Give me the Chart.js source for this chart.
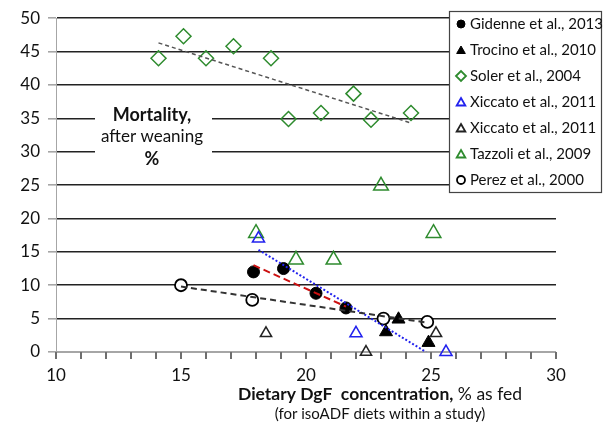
<!DOCTYPE html>
<html>
<head>
<meta charset="utf-8">
<script src="https://cdn.jsdelivr.net/npm/chart.js@4/dist/chart.umd.min.js"></script>
<style>
  body { margin: 0; background: #fff; }
  #wrap { width: 608px; height: 426px; }
</style>
</head>
<body>
<div id="wrap"><canvas id="myChart" width="608" height="426"></canvas></div>
<script>
// data (x = DgF %, y = mortality %)
const gidX = [17.9, 19.1, 20.4, 21.6]
const gidY = [12.0, 12.5, 8.8, 6.6]
const trocX = [23.2, 23.7, 24.9]
const trocY = [3.0, 4.9, 1.4]
const solerX = [14.1, 15.1, 16.0, 17.1, 18.6, 19.3, 20.6, 21.9, 22.6, 24.2]
const solerY = [44.0, 47.3, 44.0, 45.8, 44.0, 34.9, 35.8, 38.7, 34.8, 35.8]
const xicBlueX = [18.1, 22.0, 25.6]
const xicBlueY = [17.0, 2.8, 0]
const xicBlackX = [18.4, 22.4, 25.2]
const xicBlackY = [2.8, 0, 2.8]
const tazX = [18.0, 19.6, 21.1, 23.0, 25.1]
const tazY = [17.8, 13.8, 13.8, 24.9, 17.8]
const perezX = [15.0, 17.85, 23.1, 24.85]
const perezY = [10.0, 7.8, 5.0, 4.5]

// trend line end points
const solerTrendX = [14.1, 24.2]
const solerTrendY = [46.3, 34.3]
const gidTrendX = [17.9, 21.6]
const gidTrendY = [13.0, 6.8]
const xicTrendX = [18.1, 24.8]
const xicTrendY = [15.3, 0]
const perezTrendX = [15.0, 24.85]
const perezTrendY = [9.8, 4.4]

const xTicks = [10, 15, 20, 25, 30]
const yTicks = [0, 5, 10, 15, 20, 25, 30, 35, 40, 45, 50]

const legendLabels = ['Gidenne et al., 2013', 'Trocino et al., 2010', 'Soler et al., 2004',
  'Xiccato et al., 2011', 'Xiccato et al., 2011', 'Tazzoli et al., 2009', 'Perez et al., 2000']

const FONT = 'Lato, "Open Sans", sans-serif'
const TXT = '#111'
const GREEN = '#2e8b2e'
const BLUE = '#2222ee'
const NONE = 'rgba(0,0,0,0)'

function pts(xs, ys) {
  return xs.map((x, i) => ({ x: x, y: ys[i] }))
}

function markers(label, xs, ys, style, opts) {
  return Object.assign({
    label: label,
    data: pts(xs, ys),
    showLine: false,
    pointStyle: style,
    clip: false,
    legend: true
  }, opts)
}

function trend(xs, ys, color, dash, width) {
  return {
    label: '',
    data: pts(xs, ys),
    showLine: true,
    borderColor: color,
    borderWidth: width,
    borderDash: dash,
    pointRadius: 0,
    pointHoverRadius: 0,
    fill: false,
    legend: false
  }
}

const datasets = [
  trend(solerTrendX, solerTrendY, '#555555', [4, 3], 1.5),
  trend(perezTrendX, perezTrendY, '#333333', [6, 4], 2),
  trend(gidTrendX, gidTrendY, '#cc1111', [7, 4], 2),
  trend(xicTrendX, xicTrendY, BLUE, [2, 2], 2),
  markers(legendLabels[0], gidX, gidY, 'circle', { pointRadius: 6, pointBackgroundColor: '#000', pointBorderColor: '#000', pointBorderWidth: 1 }),
  markers(legendLabels[1], trocX, trocY, 'triangle', { pointRadius: 7.5, pointBackgroundColor: '#000', pointBorderColor: '#000', pointBorderWidth: 1 }),
  markers(legendLabels[2], solerX, solerY, 'rectRot', { pointRadius: 7.5, pointBackgroundColor: NONE, pointBorderColor: GREEN, pointBorderWidth: 1.5 }),
  markers(legendLabels[3], xicBlueX, xicBlueY, 'triangle', { pointRadius: 7, pointBackgroundColor: NONE, pointBorderColor: BLUE, pointBorderWidth: 1.5 }),
  markers(legendLabels[4], xicBlackX, xicBlackY, 'triangle', { pointRadius: 6.5, pointBackgroundColor: NONE, pointBorderColor: '#222', pointBorderWidth: 1.5 }),
  markers(legendLabels[5], tazX, tazY, 'triangle', { pointRadius: 8.5, pointBackgroundColor: NONE, pointBorderColor: GREEN, pointBorderWidth: 1.5 }),
  markers(legendLabels[6], perezX, perezY, 'circle', { pointRadius: 6, pointBackgroundColor: '#fff', pointBorderColor: '#000', pointBorderWidth: 1.8 })
]

// white label box inside the plot ("Mortality, after weaning %")
const innerLabel = {
  id: 'innerLabel',
  beforeDatasetsDraw(chart) {
    const c = chart.ctx
    c.save()
    c.fillStyle = '#fff'
    c.fillRect(95, 104, 117, 66)
    c.fillStyle = TXT
    c.textAlign = 'center'
    c.textBaseline = 'middle'
    c.font = 'bold 18px ' + FONT
    c.fillText('Mortality,', 152, 115)
    c.font = '17px ' + FONT
    c.fillText('after weaning', 152, 137)
    c.font = 'bold 18px ' + FONT
    c.fillText('%', 152, 159)
    c.restore()
  }
}

// boxed legend drawn over the top right of the plot, x minor ticks, x axis title
const boxLegend = {
  id: 'boxLegend',
  afterDraw(chart) {
    const c = chart.ctx
    const xs = chart.scales.x
    const y0 = chart.scales.y.getPixelForValue(0)
    c.save()
    c.setLineDash([])
    c.globalAlpha = 1
    c.fillStyle = '#6e6e6e'
    for (let v = xTicks[0]; v <= xTicks[xTicks.length - 1]; v++) {
      const px = xs.getPixelForValue(v)
      c.fillRect(Math.round(px) - 1, Math.round(y0), 2, 7)
    }

    c.fillStyle = '#fff'
    c.fillRect(449, 11, 152, 181)
    c.strokeStyle = '#444'
    c.lineWidth = 1.2
    c.strokeRect(449.5, 11.5, 152, 181)
    const items = chart.data.datasets.filter(d => d.legend)
    items.forEach((d, i) => {
      const y = 24 + i * 26
      const tri = d.pointStyle === 'triangle'
      const r = d.pointStyle === 'circle' ? 4 : 5
      c.fillStyle = d.pointBackgroundColor
      c.strokeStyle = d.pointBorderColor
      c.lineWidth = d.pointBackgroundColor === '#000' ? 1 : 1.8
      Chart.helpers.drawPoint(c, { pointStyle: d.pointStyle, radius: r, borderWidth: c.lineWidth }, 461, y + (tri ? 1 : 0))
      c.fillStyle = TXT
      c.font = '15px ' + FONT
      c.textAlign = 'left'
      c.textBaseline = 'middle'
      c.fillText(d.label, 470, y)
    })

    // x axis title: bold part + normal part, centred
    const bold = 'Dietary DgF  concentration,'
    const norm = ' % as fed'
    c.font = 'bold 17.5px ' + FONT
    const wb = c.measureText(bold).width
    c.font = '17.5px ' + FONT
    const wn = c.measureText(norm).width
    const x0 = 380 - (wb + wn) / 2
    c.textAlign = 'left'
    c.textBaseline = 'middle'
    c.fillStyle = TXT
    c.font = 'bold 17.5px ' + FONT
    c.fillText(bold, x0, 394)
    c.font = '17.5px ' + FONT
    c.fillText(norm, x0 + wb, 394)
    c.font = '15px ' + FONT
    c.textAlign = 'center'
    c.fillText('(for isoADF diets within a study)', 380, 414)
    c.restore()
  }
}

const ctx = document.getElementById('myChart')

new Chart(ctx, {
  type: 'scatter',
  data: { datasets: datasets },
  plugins: [innerLabel, boxLegend],
  options: {
    responsive: false,
    animation: false,
    layout: { padding: { left: 0, top: 16, right: 52, bottom: 0 } },
    plugins: {
      legend: { display: false },
      tooltip: { enabled: false }
    },
    scales: {
      x: {
        type: 'linear',
        min: xTicks[0],
        max: xTicks[xTicks.length - 1],
        afterFit: s => { s.height = 74 },
        border: { color: '#a6a6a6', width: 1 },
        grid: { display: false },
        ticks: {
          stepSize: 5,
          autoSkip: false,
          maxRotation: 0,
          padding: 5,
          color: TXT,
          font: { family: FONT, size: 17 },
          callback: v => xTicks.includes(v) ? String(v) : ''
        }
      },
      y: {
        type: 'linear',
        min: yTicks[0],
        max: yTicks[yTicks.length - 1],
        afterFit: s => { s.width = 56 },
        border: { color: '#a6a6a6', width: 1 },
        grid: {
          drawTicks: true,
          tickLength: 8,
          lineWidth: 1.6,
          color: c => c.tick && c.tick.value === 0 ? '#a6a6a6' : '#222',
          tickColor: '#a6a6a6'
        },
        ticks: {
          stepSize: 5,
          padding: 8,
          color: TXT,
          font: { family: FONT, size: 17 },
          callback: v => yTicks.includes(v) ? String(v) : ''
        }
      }
    }
  }
})
</script>
</body>
</html>
